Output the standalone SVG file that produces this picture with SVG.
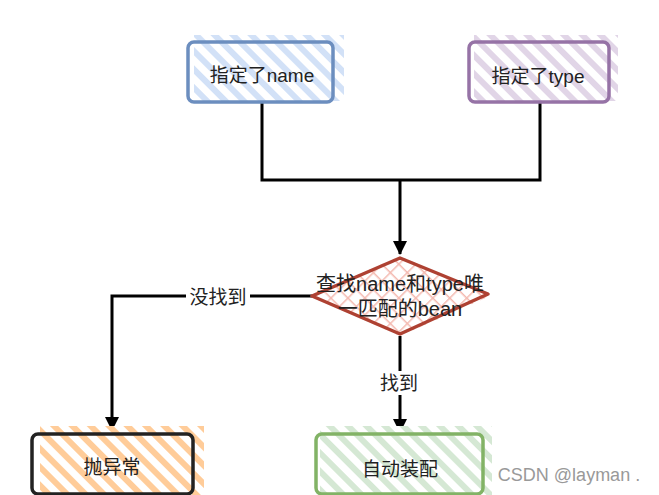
<svg xmlns="http://www.w3.org/2000/svg" width="659" height="495" viewBox="0 0 659 495">
<style>
text{font-family:"Liberation Sans","Noto Sans CJK SC",sans-serif;font-size:19px;fill:#222;text-anchor:middle;dominant-baseline:central}
.box{stroke-width:3.5;stroke-linejoin:round}
.edge{fill:none;stroke:#000;stroke-width:3}
.lbl{fill:#fff}
</style>
<defs>
<pattern id="hb" width="13" height="13" patternUnits="userSpaceOnUse" patternTransform="rotate(45)"><rect width="13" height="13" fill="#fff"/><rect width="13" height="6" fill="#d2e1f7"/></pattern>
<pattern id="hp" width="13" height="13" patternUnits="userSpaceOnUse" patternTransform="rotate(45)"><rect width="13" height="13" fill="#fff"/><rect width="13" height="6" fill="#e1d5e7"/></pattern>
<pattern id="ho" width="13" height="13" patternUnits="userSpaceOnUse" patternTransform="rotate(45)"><rect width="13" height="13" fill="#fff"/><rect width="13" height="6" fill="#ffcc99"/></pattern>
<pattern id="hg" width="13" height="13" patternUnits="userSpaceOnUse" patternTransform="rotate(45)"><rect width="13" height="13" fill="#fff"/><rect width="13" height="6" fill="#d5e8d4"/></pattern>
<pattern id="hr" width="12" height="12" patternUnits="userSpaceOnUse" patternTransform="rotate(45)"><rect width="12" height="12" fill="#fff"/><rect width="12" height="1.5" fill="#f4b9b0"/><rect width="1.5" height="12" fill="#f4b9b0"/></pattern>
<marker id="arr" viewBox="0 0 14 14" refX="13" refY="7" markerWidth="14" markerHeight="14" markerUnits="userSpaceOnUse" orient="auto"><path d="M0,0 L14,7 L0,14 Z" fill="#000"/></marker>
</defs>
<g id="edges">
<path class="edge" d="M262,102 V180 H540 V103"/>
<path class="edge" d="M400,180 V254" marker-end="url(#arr)"/>
<path class="edge" d="M312,296 H112 V430" marker-end="url(#arr)"/>
<path class="edge" d="M400,336 V432" marker-end="url(#arr)"/>
<rect class="lbl" x="186" y="285" width="64" height="24"/>
<text x="218" y="297">没找到</text>
<rect class="lbl" x="376" y="371" width="46" height="24"/>
<text x="399" y="383">找到</text>
</g>
<g id="n-name">
<rect x="194" y="35" width="150" height="66" fill="url(#hb)"/>
<rect class="box" x="188" y="42" width="145" height="60" rx="6" fill="none" stroke="#6c8ebf"/>
<text x="262" y="75">指定了name</text>
</g>
<g id="n-type">
<rect x="474" y="35" width="144" height="66" fill="url(#hp)"/>
<rect class="box" x="469" y="42" width="140" height="60" rx="6" fill="none" stroke="#9673a6"/>
<text x="538" y="76">指定了type</text>
</g>
<g id="n-find">
<path d="M400,256 L490,296 L400,336 L310,296 Z" fill="url(#hr)"/>
<path class="box" d="M400,258 L488,294 L400,334 L312,296 Z" fill="none" stroke="#ae4132"/>
<text x="400" y="284" style="font-size:20px">查找name和type唯</text>
<text x="400" y="309" style="font-size:20px">一匹配的bean</text>
</g>
<g id="n-throw">
<rect x="40" y="426" width="164" height="69" fill="url(#ho)"/>
<rect class="box" x="32" y="434" width="161" height="60" rx="6" fill="none" stroke="#222"/>
<text x="112" y="467">抛异常</text>
</g>
<g id="n-auto">
<rect x="320" y="426" width="172" height="69" fill="url(#hg)"/>
<rect class="box" x="316" y="434" width="167" height="60" rx="6" fill="none" stroke="#82b366"/>
<text x="400" y="469">自动装配</text>
</g>
<text x="569" y="475" style="fill:#999;font-size:18px">CSDN @layman  .</text>
</svg>
